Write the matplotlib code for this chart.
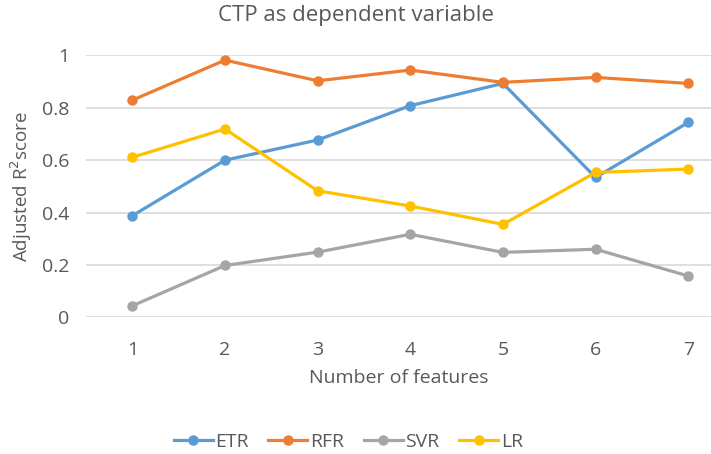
import matplotlib.pyplot as plt

features = [1, 2, 3, 4, 5, 6, 7]
etr = [0.388, 0.600, 0.677, 0.808, 0.893, 0.534, 0.744]
rfr = [0.829, 0.982, 0.903, 0.944, 0.897, 0.916, 0.893]
svr = [0.044, 0.198, 0.249, 0.317, 0.248, 0.260, 0.158]
lr = [0.611, 0.719, 0.483, 0.425, 0.355, 0.553, 0.566]

series = [("ETR", etr, "#5B9BD5"), ("RFR", rfr, "#ED7D31"),
          ("SVR", svr, "#A5A5A5"), ("LR", lr, "#FFC000")]

plt.rcParams['font.family'] = ['Open Sans', 'DejaVu Sans']
text_col = "#595959"

fig = plt.figure(figsize=(7.11, 4.54), dpi=100)
ax = fig.add_axes([0.121, 0.301, 0.879, 0.577])

for name, vals, col in series:
    ax.plot(features, vals, color=col, lw=2.3, marker='o', ms=6.5,
            label=name, clip_on=False, zorder=3)

ax.set_xlim(0.5, 7.246)
ax.set_ylim(0, 1)
ax.set_yticks([0, 0.2, 0.4, 0.6, 0.8, 1])
ax.set_yticklabels(['0', '0.2', '0.4', '0.6', '0.8', '1'])
ax.set_xticks(features)
ax.yaxis.grid(True, color="#D9D9D9", lw=1.2)
ax.set_axisbelow(True)
for s in ax.spines.values():
    s.set_visible(False)
ax.tick_params(length=0, labelsize=14, labelcolor=text_col)
ax.tick_params(axis='y', pad=12)
ax.tick_params(axis='x', pad=17)

ax.set_xlabel("Number of features", fontsize=14, color=text_col, labelpad=7)
ax.set_ylabel("Adjusted R$^2$score", fontsize=13.5, color=text_col, labelpad=6)
fig.text(0.5, 0.965, "CTP as dependent variable", ha='center', va='center',
         fontsize=16, color=text_col)

leg = fig.legend(loc='center', bbox_to_anchor=(0.49, 0.027), ncol=4,
                 frameon=False, fontsize=14, handlelength=2.0,
                 columnspacing=1.0, handletextpad=0.15)
for t in leg.get_texts():
    t.set_color(text_col)

fig.savefig("out.png", dpi=100)
